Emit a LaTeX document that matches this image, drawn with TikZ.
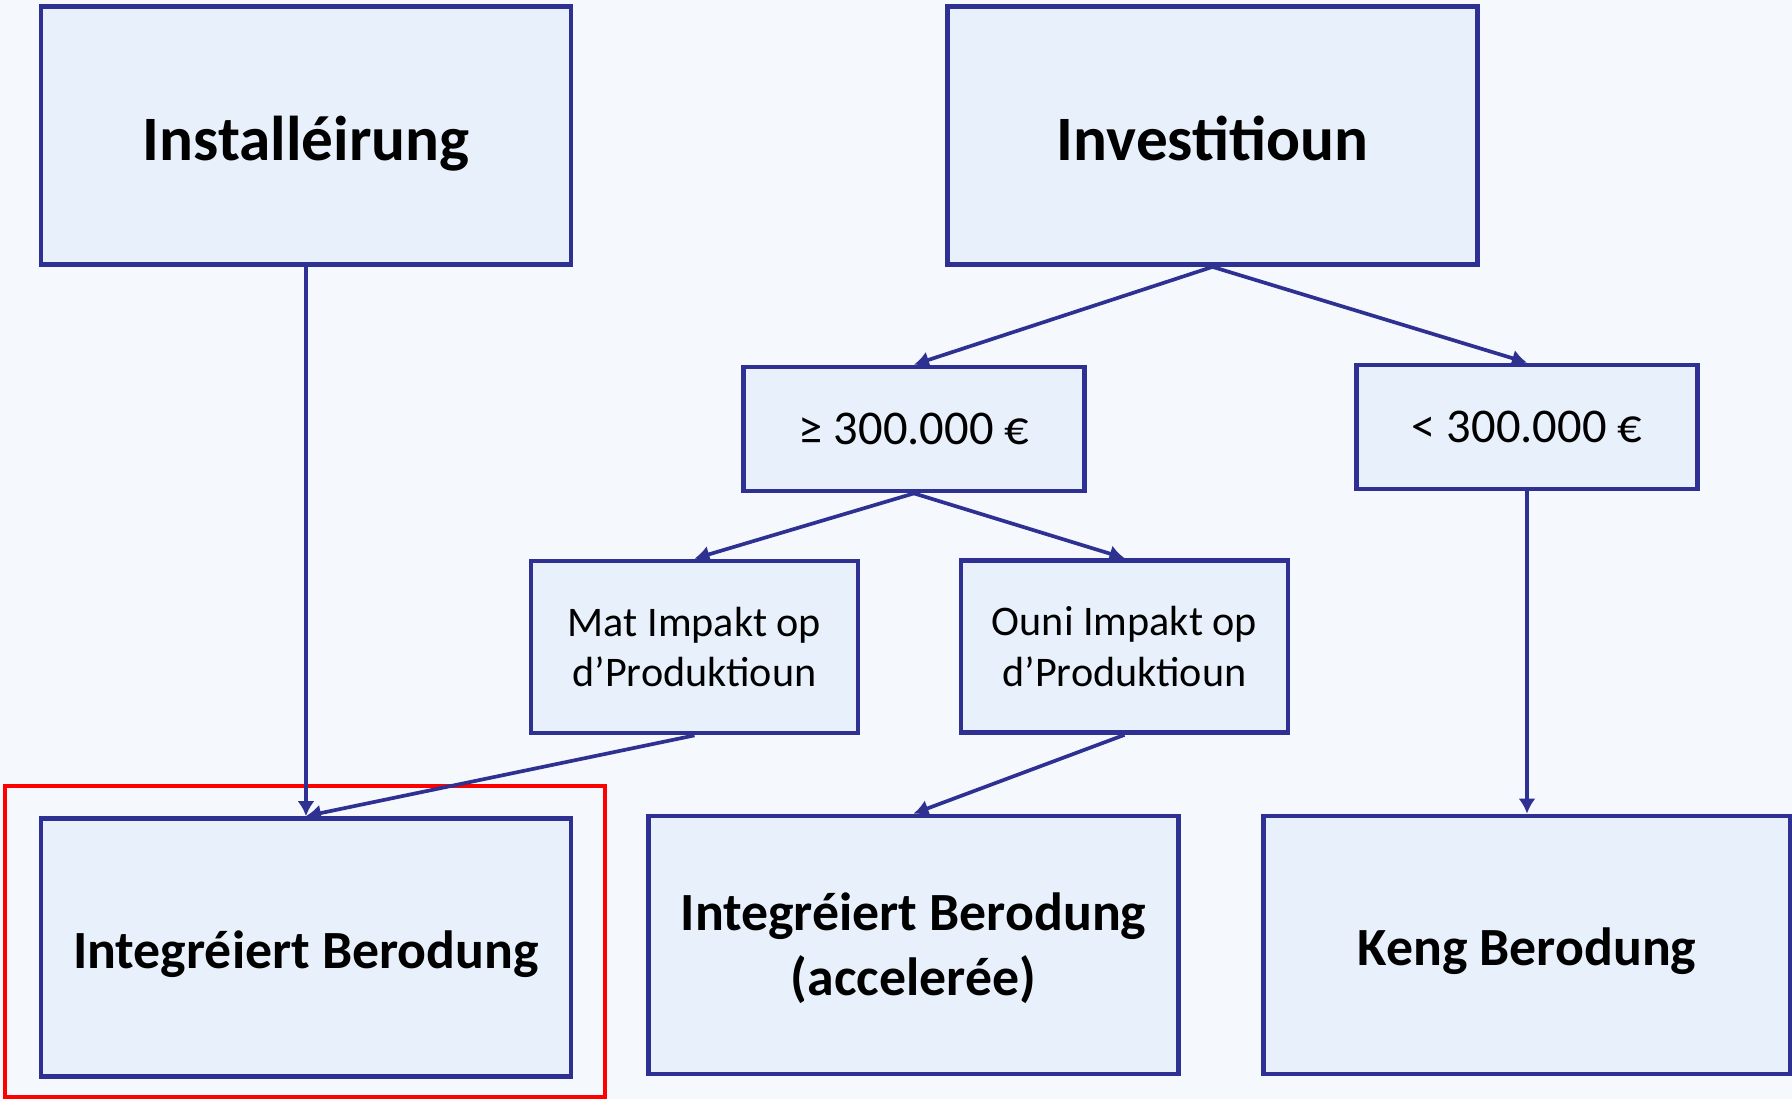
\documentclass[tikz,border=0pt]{standalone}
\usepackage{fontspec}
\setmainfont{Carlito}
\usepackage{tikz}
\usetikzlibrary{positioning}
\usetikzlibrary{shapes.geometric, arrows.meta}
\usepackage{xcolor}
\definecolor{bgblue}{RGB}{245,249,253}
\definecolor{boxfill}{RGB}{232,241,251}
\definecolor{boxline}{RGB}{46,49,146}

\begin{document}
\begin{tikzpicture}[
    big/.style = {draw=boxline, fill=boxfill, line width=1.35pt, minimum width=5.3cm, minimum height=2.58cm, align=center, font=\fontsize{18}{19.5}\selectfont\bfseries},
    one/.style = {text height=14pt, text depth=0pt},
    result/.style = {big, font=\fontsize{15.3}{18.5}\selectfont\bfseries},
    oneres/.style = {text height=11.7pt, text depth=0pt},
    small/.style = {draw=boxline, fill=boxfill, line width=1.35pt, minimum width=3.41cm, minimum height=1.24cm, align=center, font=\fontsize{13.8}{15}\selectfont},
    mid/.style = {small, minimum width=3.27cm, minimum height=1.72cm, font=\fontsize{12}{14.5}\selectfont},
    arr/.style = {-{Latex[length=1.5mm,width=1.7mm]}, draw=boxline, line width=1.05pt}]
        \useasboundingbox (0,0) rectangle (17.92,10.99);
        \fill[bgblue] (0,0) rectangle (17.92,10.99);
        % top row
        \node[big,one] (inst) at (3.06,9.635) {Installéirung};
        \node[big,one] (inv) at (12.125,9.635) {Investitioun};
        % thresholds
        \node[small] (ge) at (9.14,6.70) {≥ 300.000 €};
        \node[small] (lt) at (15.27,6.72) {< 300.000 €};
        \node[mid] (mat) at (6.945,4.52) {Mat Impakt op\\d’Produktioun};
        \node[mid] (ouni) at (11.245,4.525) {Ouni Impakt op\\d’Produktioun};
        % results
        \node[result,oneres] (ib) at (3.06,1.515) {Integréiert Berodung};
        \node[result,text depth=0.5pt] (iba) at (9.135,1.54) {Integréiert Berodung\\(accelerée)};
        \node[result,oneres, minimum width=5.27cm] (keng) at (15.27,1.54) {Keng Berodung};
        \draw[red, line width=1.35pt] (0.05,0.02) rectangle (6.05,3.13);
        \path
        (inst.south) edge[arr] (ib.north)
        (inv.south) edge[arr] (ge.north)
        (inv.south) edge[arr] (lt.north)
        (ge.south) edge[arr] (mat.north)
        (ge.south) edge[arr] (ouni.north)
        (mat.south) edge[arr] (ib.north)
        (ouni.south) edge[arr] (iba.north)
        (lt.south) edge[arr] (keng.north);
      \end{tikzpicture}
\end{document}
